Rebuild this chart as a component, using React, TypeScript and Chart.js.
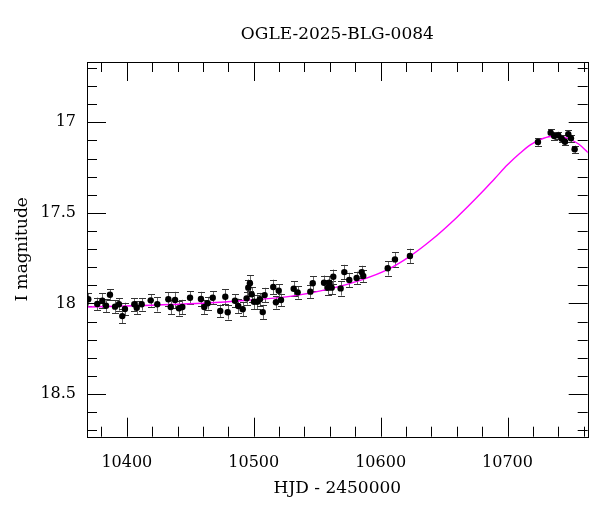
import React, { useEffect, useRef } from "react";
import { Chart, registerables } from "chart.js";

Chart.register(...registerables);

const TITLE = "OGLE-2025-BLG-0084";
const X_TITLE = "HJD - 2450000";
const Y_TITLE = "I magnitude";

const X_MIN = 10368.6;
const X_MAX = 10763.2;
const Y_MIN = 16.667;
const Y_MAX = 18.736;

const X_TICKS = [10400, 10500, 10600, 10700];
const Y_TICKS = [17, 17.5, 18, 18.5];

// observations: HJD-2450000, I magnitude, error
const obsDays = [
  10369.6, 10376.7, 10380.7, 10383.6, 10386.7, 10390.7, 10393.8, 10396.4, 10398.5, 10405.9,
  10407.8, 10411.7, 10418.8, 10424.0, 10432.7, 10434.6, 10438.0, 10441.1, 10443.7, 10449.8,
  10458.4, 10461.0, 10463.7, 10467.7, 10473.6, 10477.6, 10479.5, 10485.2, 10487.8, 10491.3,
  10494.4, 10495.7, 10497.0, 10498.4, 10500.2, 10502.8, 10504.9, 10507.1, 10508.6, 10515.4,
  10517.5, 10519.7, 10521.5, 10531.5, 10534.6, 10544.6, 10546.5, 10555.4, 10558.5, 10559.5,
  10561.4, 10562.7, 10568.5, 10571.4, 10575.3, 10581.1, 10585.1, 10586.3, 10605.6, 10611.3,
  10623.1, 10724.0, 10734.0, 10736.8, 10740.0, 10742.7, 10745.3, 10747.9, 10750.0, 10752.9,
];
const obsMags = [
  17.977, 18.003, 17.985, 18.013, 17.952, 18.018, 18.005, 18.070, 18.031, 18.005,
  18.024, 18.005, 17.983, 18.005, 17.977, 18.020, 17.981, 18.027, 18.020, 17.969,
  17.976, 18.020, 17.999, 17.969, 18.042, 17.963, 18.049, 17.985, 18.014, 18.032,
  17.972, 17.913, 17.889, 17.950, 17.991, 17.991, 17.977, 18.048, 17.954, 17.909,
  17.994, 17.930, 17.981, 17.919, 17.939, 17.935, 17.889, 17.886, 17.913, 17.886,
  17.913, 17.853, 17.917, 17.827, 17.871, 17.860, 17.827, 17.849, 17.806, 17.757,
  17.738, 17.109, 17.057, 17.076, 17.072, 17.091, 17.107, 17.065, 17.088, 17.149,
];
const obsErrs = [
  0.035, 0.035, 0.04, 0.035, 0.03, 0.035, 0.035, 0.04, 0.035, 0.035,
  0.035, 0.035, 0.035, 0.04, 0.04, 0.04, 0.045, 0.04, 0.04, 0.035,
  0.04, 0.04, 0.035, 0.035, 0.035, 0.04, 0.04, 0.035, 0.04, 0.04,
  0.035, 0.045, 0.045, 0.04, 0.04, 0.04, 0.035, 0.04, 0.04, 0.04,
  0.035, 0.035, 0.035, 0.04, 0.035, 0.035, 0.04, 0.04, 0.04, 0.035,
  0.035, 0.04, 0.04, 0.04, 0.04, 0.035, 0.035, 0.035, 0.04, 0.04,
  0.04, 0.02, 0.02, 0.02, 0.02, 0.02, 0.02, 0.02, 0.02, 0.02,
];

// model curve
const modelDays = [
  10368, 10420, 10470, 10500, 10530, 10560, 10585, 10605, 10623, 10640,
  10660, 10680, 10690, 10700, 10710, 10718, 10726, 10734, 10740, 10748,
  10756, 10764,
];
const modelMags = [
  18.02, 18.01, 17.995, 17.98, 17.96, 17.92, 17.87, 17.815, 17.74, 17.65,
  17.525, 17.385, 17.31, 17.235, 17.17, 17.125, 17.095, 17.078, 17.077, 17.09,
  17.12, 17.17,
];

const FONT = "'DejaVu Serif', serif";

const framePlugin = {
  id: "frame",
  beforeDatasetsDraw(chart: any) {
    const { ctx, chartArea, scales } = chart;
    const xs = scales.x;
    const ys = scales.y;
    ctx.save();
    ctx.beginPath();
    ctx.rect(chartArea.left, chartArea.top, chartArea.right - chartArea.left, chartArea.bottom - chartArea.top);
    ctx.clip();
    ctx.lineWidth = 1;
    for (let i = 0; i < obsDays.length; i++) {
      const x = Math.round(xs.getPixelForValue(obsDays[i])) + 0.5;
      const y1 = ys.getPixelForValue(obsMags[i] - obsErrs[i]);
      const y2 = ys.getPixelForValue(obsMags[i] + obsErrs[i]);
      ctx.strokeStyle = "#666";
      ctx.beginPath();
      ctx.moveTo(x, y1);
      ctx.lineTo(x, y2);
      ctx.stroke();
      ctx.strokeStyle = "#333";
      ctx.beginPath();
      ctx.moveTo(x - 3.5, Math.round(y1) + 0.5);
      ctx.lineTo(x + 3.5, Math.round(y1) + 0.5);
      ctx.moveTo(x - 3.5, Math.round(y2) + 0.5);
      ctx.lineTo(x + 3.5, Math.round(y2) + 0.5);
      ctx.stroke();
    }
    ctx.restore();
  },
  afterDraw(chart: any) {
    const { ctx, chartArea, scales } = chart;
    const xs = scales.x;
    const ys = scales.y;
    const L = chartArea.left, R = chartArea.right, T = chartArea.top, B = chartArea.bottom;
    ctx.save();
    ctx.strokeStyle = "#000";
    ctx.lineWidth = 1;
    ctx.strokeRect(Math.round(L) + 0.5, Math.round(T) + 0.5, Math.round(R - L), Math.round(B - T));
    ctx.beginPath();
    // x ticks (major every 100, minor every 20)
    for (let v = 10380; v <= X_MAX; v += 20) {
      const major = X_TICKS.includes(v);
      const len = major ? 19 : 10;
      const x = Math.round(xs.getPixelForValue(v)) + 0.5;
      ctx.moveTo(x, B);
      ctx.lineTo(x, B - len);
      ctx.moveTo(x, T);
      ctx.lineTo(x, T + len);
    }
    // y ticks (major every 0.5, minor every 0.1)
    for (let k = 167; k <= 187; k++) {
      const v = k / 10;
      if (v < Y_MIN || v > Y_MAX) continue;
      const major = k % 5 === 0;
      const len = major ? 19 : 10;
      const y = Math.round(ys.getPixelForValue(v)) + 0.5;
      ctx.moveTo(L, y);
      ctx.lineTo(L + len, y);
      ctx.moveTo(R, y);
      ctx.lineTo(R - len, y);
    }
    ctx.stroke();

    ctx.fillStyle = "#000";
    ctx.font = `17px ${FONT}`;
    ctx.textAlign = "center";
    ctx.textBaseline = "middle";
    const cx = (L + R) / 2;
    ctx.fillText(TITLE, cx, 35);
    ctx.fillText(X_TITLE, cx, 489);
    ctx.translate(23, (T + B) / 2);
    ctx.rotate(-Math.PI / 2);
    ctx.fillText(Y_TITLE, 0, 0);
    ctx.restore();
  },
};

export default function App() {
  const ref = useRef<HTMLCanvasElement>(null);
  useEffect(() => {
    if (!ref.current) return;
    const chart = new Chart(ref.current, {
      type: "scatter",
      data: {
        datasets: [
          {
            type: "scatter",
            data: obsDays.map((d, i) => ({ x: d, y: obsMags[i] })),
            backgroundColor: "#000",
            borderColor: "#000",
            pointRadius: 3.2,
            pointBorderWidth: 0,
            order: 0,
          },
          {
            type: "line",
            data: modelDays.map((d, i) => ({ x: d, y: modelMags[i] })),
            borderColor: "#ff00ff",
            borderWidth: 1.4,
            pointRadius: 0,
            fill: false,
            cubicInterpolationMode: "monotone",
            order: 1,
          } as any,
        ],
      },
      options: {
        responsive: false,
        animation: false,
        devicePixelRatio: 1,
        layout: { padding: { top: 62, right: 12.3, left: 0, bottom: 0 } },
        plugins: { legend: { display: false }, tooltip: { enabled: false }, title: { display: false } },
        scales: {
          x: {
            type: "linear",
            min: X_MIN,
            max: X_MAX,
            grid: { display: false, drawTicks: false, tickLength: 0 },
            border: { display: false },
            afterBuildTicks: (s: any) => {
              s.ticks = X_TICKS.map((v) => ({ value: v }));
            },
            afterFit: (s: any) => {
              s.height = 75.3;
            },
            ticks: {
              color: "#000",
              font: { family: FONT, size: 16 },
              padding: 17,
              maxRotation: 0,
              callback: (v: any) => String(v),
            },
          },
          y: {
            type: "linear",
            reverse: true,
            min: Y_MIN,
            max: Y_MAX,
            grid: { display: false, drawTicks: false, tickLength: 0 },
            border: { display: false },
            afterBuildTicks: (s: any) => {
              s.ticks = Y_TICKS.map((v) => ({ value: v }));
            },
            afterFit: (s: any) => {
              s.width = 87;
            },
            ticks: {
              color: "#000",
              font: { family: FONT, size: 16 },
              padding: 11,
              callback: (v: any) => String(v),
            },
          },
        },
      },
      plugins: [framePlugin],
    });
    return () => chart.destroy();
  }, []);
  return (
    <div style={{ position: "absolute", left: 0, top: 0, width: 600, height: 512, background: "#fff" }}>
      <canvas ref={ref} width={600} height={512} style={{ width: 600, height: 512, display: "block" }} />
    </div>
  );
}
